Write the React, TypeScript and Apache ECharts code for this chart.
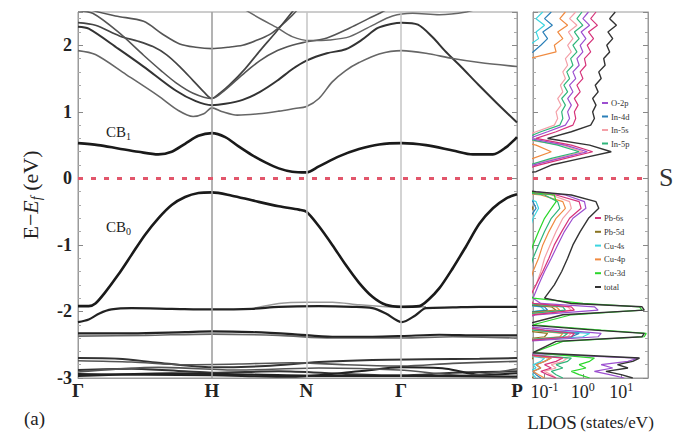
import React, { useEffect, useRef } from 'react';
import * as echarts from 'echarts';

// ---------- k-path ----------
const kPath = [0, 1.0, 1.707, 2.414, 3.28];
const kLabels = ['Γ', 'H', 'N', 'Γ', 'P'];
const kLines = [1.0, 1.707, 2.414];

// ---------- bands [k, E] ----------
const cb1 = [[0,0.53],[0.15,0.5],[0.3,0.45],[0.45,0.4],[0.6,0.36],[0.7,0.4],[0.8,0.52],[0.9,0.64],[1.0,0.68],[1.1,0.62],[1.2,0.48],[1.3,0.35],[1.4,0.24],[1.5,0.15],[1.6,0.1],[1.707,0.09],[1.8,0.18],[1.95,0.33],[2.1,0.44],[2.25,0.51],[2.42,0.53],[2.6,0.5],[2.8,0.42],[2.95,0.36],[3.1,0.36],[3.2,0.47],[3.28,0.62]];
const cb0 = [[0,-1.92],[0.08,-1.92],[0.13,-1.88],[0.2,-1.72],[0.3,-1.45],[0.4,-1.15],[0.5,-0.85],[0.6,-0.6],[0.7,-0.4],[0.8,-0.28],[0.9,-0.22],[1.0,-0.21],[1.15,-0.26],[1.3,-0.33],[1.5,-0.42],[1.65,-0.47],[1.707,-0.5],[1.8,-0.72],[1.9,-1.0],[2.0,-1.3],[2.1,-1.57],[2.2,-1.78],[2.3,-1.9],[2.42,-1.93],[2.55,-1.92],[2.62,-1.82],[2.7,-1.65],[2.8,-1.35],[2.9,-1.02],[3.0,-0.68],[3.1,-0.45],[3.2,-0.3],[3.28,-0.24]];
const band1 = [[0,2.62],[0.1,2.53],[0.28,2.44],[0.49,2.36],[0.63,2.17],[0.76,2.02],[0.88,1.97],[1.0,1.95],[1.12,1.97],[1.23,2.0],[1.33,2.07],[1.43,2.16],[1.52,2.3],[1.6,2.45],[1.66,2.58]];
const band2 = [[0,2.34],[0.13,2.3],[0.31,2.14],[0.45,2.06],[0.56,1.98],[0.66,1.86],[0.76,1.68],[0.86,1.47],[0.94,1.3],[1.0,1.2],[1.06,1.28],[1.13,1.4],[1.25,1.65],[1.36,1.92],[1.48,2.2],[1.6,2.5],[1.64,2.6]];
const band3 = [[0,2.52],[0.11,2.48],[0.3,2.2],[0.49,1.85],[0.62,1.62],[0.73,1.44],[0.86,1.28],[1.0,1.2],[1.1,1.33],[1.23,1.56],[1.36,1.77],[1.49,1.92],[1.6,2.0],[1.68,2.04],[1.86,2.11],[2.03,2.26],[2.17,2.4],[2.3,2.53],[2.35,2.6]];
const band4 = [[0,2.28],[0.08,2.25],[0.3,1.95],[0.49,1.68],[0.73,1.32],[0.88,1.16],[1.0,1.1],[1.1,1.12],[1.23,1.18],[1.36,1.3],[1.49,1.47],[1.6,1.64],[1.707,1.77],[1.86,1.88],[2.0,1.94],[2.12,2.08],[2.24,2.26],[2.34,2.32],[2.42,2.34],[2.54,2.31],[2.65,2.12],[2.74,1.92],[2.86,1.68],[2.99,1.41],[3.13,1.13],[3.28,0.84]];
const band5 = [[0,1.92],[0.13,1.86],[0.36,1.56],[0.6,1.24],[0.75,1.02],[0.86,0.93],[0.94,0.97],[1.0,1.06],[1.08,1.0],[1.19,0.95],[1.35,0.97],[1.5,1.01],[1.62,1.05],[1.707,1.08],[1.8,1.2],[1.9,1.45],[2.0,1.62],[2.1,1.74],[2.25,1.87],[2.42,1.92],[2.6,1.88],[2.8,1.8],[3.0,1.74],[3.28,1.68]];
const band6 = [[1.2,2.6],[1.26,2.52],[1.38,2.38],[1.49,2.26],[1.6,2.13],[1.73,2.07],[1.88,2.08],[2.03,2.13],[2.2,2.3],[2.35,2.44],[2.5,2.48],[2.7,2.46],[2.9,2.5],[3.0,2.56]];
const flat1 = [[0,-2.16],[0.08,-2.12],[0.16,-2.03],[0.25,-1.97],[0.4,-1.95],[0.7,-1.96],[1.0,-1.97],[1.3,-1.96],[1.5,-1.93],[1.8,-1.92],[2.05,-1.93],[2.2,-1.95],[2.3,-2.03],[2.42,-2.16],[2.52,-2.06],[2.6,-1.95],[2.8,-1.94],[3.0,-1.93],[3.28,-1.93]];
const flat1b = [[1.3,-1.96],[1.5,-1.88],[1.7,-1.86],[1.9,-1.86],[2.1,-1.9],[2.3,-1.93],[2.42,-1.94],[2.6,-1.93]];
const flat2 = [[0,-2.33],[0.4,-2.33],[0.8,-2.31],[1.0,-2.3],[1.3,-2.31],[1.6,-2.34],[1.9,-2.38],[2.2,-2.38],[2.42,-2.37],[2.7,-2.35],[3.0,-2.36],[3.28,-2.36]];
const flat2b = [[0,-2.37],[0.5,-2.36],[1.0,-2.34],[1.5,-2.36],[1.9,-2.4],[2.42,-2.4],[2.8,-2.38],[3.28,-2.4]];
const flat3 = [[0,-2.7],[0.3,-2.71],[0.6,-2.77],[1.0,-2.84],[1.4,-2.82],[1.8,-2.76],[2.2,-2.73],[2.6,-2.72],[3.0,-2.71],[3.28,-2.7]];
const flat4 = [[0,-2.74],[0.4,-2.76],[0.8,-2.8],[1.2,-2.79],[1.6,-2.77],[2.0,-2.8],[2.42,-2.82],[2.8,-2.78],[3.28,-2.75]];
const flat5 = [[0,-2.88],[0.4,-2.86],[0.8,-2.9],[1.0,-2.92],[1.5,-2.9],[2.0,-2.94],[2.42,-2.96],[2.8,-2.92],[3.28,-2.9]];
const flat6 = [[0,-2.94],[0.5,-2.95],[1.0,-2.96],[1.6,-2.98],[2.1,-2.9],[2.42,-2.84],[2.75,-2.86],[3.0,-2.95],[3.28,-2.93]];
const flat7 = [[0,-2.91],[0.6,-2.84],[1.2,-2.88],[1.8,-2.85],[2.4,-2.88],[2.9,-2.96],[3.28,-2.86]];
const flat8 = [[0,-2.97],[0.7,-2.93],[1.3,-2.95],[1.9,-2.97],[2.5,-2.97],[3.28,-2.98]];

// ---------- LDOS (states/eV) on a shared energy grid ----------
const ldosEnergy = [2.5,2.4,2.3,2.2,2.1,2.0,1.9,1.8,1.7,1.6,1.5,1.4,1.3,1.2,1.1,1.0,0.9,0.8,0.7,0.6,0.5,0.4,0.3,0.2,0.1,0.05,-0.15,-0.2,-0.25,-0.35,-0.45,-0.6,-0.8,-1.0,-1.2,-1.4,-1.6,-1.8,-1.88,-1.93,-1.98,-2.05,-2.2,-2.28,-2.33,-2.38,-2.45,-2.62,-2.7,-2.75,-2.8,-2.85,-2.9,-2.95,-3.0];
const dosO2p = [1.4,1.0,1.5,0.9,1.2,0.85,1.0,0.7,0.8,0.55,0.65,0.45,0.55,0.4,0.5,0.4,0.45,0.35,0.12,0.04,0.35,1.3,0.25,0.05,0.015,0.01, 0.01,0.05,0.35,1.1,1.2,0.55,0.33,0.22,0.15,0.1,0.07,0.05, 0.08,2,2.5,0.06,0.01, 0.3,3,2.5,0.03,0.01, 28,15,3,6,2,5,12];
const dosIn4d = [0.15,0.1,0.16,0.09,0.12,0.08,0.05,0.02,0.01,0.01, 0.01,0.01,0.01,0.01,0.01,0.01,0.01,0.01,0.01,0.01, 0.01,0.01,0.01,0.01,0.01,0.01, 0.01,0.01,0.02,0.05,0.06,0.04,0.03,0.02,0.015,0.01,0.01,0.01, 0.01,0.1,0.12,0.01,0.01, 0.05,0.8,0.5,0.01,0.01, 0.15,0.1,0.06,0.08,0.05,0.06,0.08];
const dosIn5s = [0.65,0.45,0.7,0.42,0.55,0.4,0.5,0.35,0.4,0.3, 0.35,0.26,0.3,0.22,0.27,0.2,0.22,0.18,0.06,0.02, 0.3,1.0,0.2,0.04,0.01,0.01, 0.01,0.02,0.15,0.45,0.5,0.3,0.2,0.14,0.1,0.08,0.06,0.04, 0.05,0.4,0.5,0.03,0.01, 0.05,0.5,0.4,0.01,0.01, 0.4,0.3,0.15,0.2,0.1,0.15,0.2];
const dosIn5p = [0.95,0.7,1.0,0.6,0.8,0.55,0.7,0.48,0.55,0.38, 0.45,0.32,0.4,0.28,0.35,0.28,0.3,0.25,0.08,0.03, 0.22,0.8,0.15,0.04,0.01,0.01, 0.01,0.02,0.1,0.22,0.25,0.15,0.1,0.07,0.05,0.04,0.03,0.02, 0.03,0.3,0.35,0.02,0.01, 0.05,0.4,0.3,0.01,0.01, 0.5,0.4,0.2,0.3,0.15,0.2,0.3];
const dosPb6s = [2.2,1.6,2.4,1.4,1.9,1.3,1.6,1.1,1.2,0.85, 1.0,0.7,0.85,0.6,0.75,0.6,0.65,0.55,0.2,0.06, 0.5,1.8,0.35,0.07,0.02,0.01, 0.01,0.03,0.2,0.8,0.9,0.45,0.28,0.18,0.13,0.09,0.06,0.04, 0.05,0.5,0.6,0.05,0.01, 0.1,0.6,0.5,0.02,0.01, 0.3,0.2,0.1,0.15,0.08,0.12,0.2];
const dosPb5d = [0.01,0.01,0.01,0.01,0.01,0.01,0.01,0.01,0.01,0.01, 0.01,0.01,0.01,0.01,0.01,0.01,0.01,0.01,0.01,0.01, 0.01,0.01,0.01,0.01,0.01,0.01, 0.01,0.01,0.02,0.04,0.05,0.03,0.02,0.02,0.015,0.01,0.01,0.01, 0.02,0.15,0.2,0.01,0.01, 0.02,0.12,0.1,0.01,0.01, 0.05,0.04,0.03,0.04,0.03,0.04,0.05];
const dosCu4s = [0.09,0.06,0.1,0.06,0.07,0.04,0.015,0.01,0.01,0.01, 0.01,0.01,0.01,0.01,0.01,0.01,0.01,0.01,0.01,0.01, 0.01,0.01,0.01,0.01,0.01,0.01, 0.01,0.01,0.02,0.06,0.07,0.05,0.04,0.03,0.02,0.015,0.01,0.01, 0.01,0.08,0.1,0.01,0.01, 0.1,1.5,1.0,0.02,0.01, 0.1,0.08,0.05,0.06,0.04,0.05,0.06];
const dosCu4p = [0.35,0.25,0.4,0.22,0.3,0.18,0.2,0.04,0.015,0.01, 0.01,0.01,0.01,0.01,0.01,0.01,0.01,0.01,0.01,0.01, 0.06,0.15,0.05,0.01,0.01,0.01, 0.01,0.01,0.08,0.3,0.35,0.2,0.13,0.09,0.07,0.05,0.04,0.03, 0.04,0.2,0.25,0.02,0.01, 0.04,0.3,0.25,0.01,0.01, 0.15,0.1,0.06,0.08,0.05,0.07,0.1];
const dosCu3d = [0.01,0.01,0.01,0.01,0.01,0.01,0.01,0.01,0.01,0.01, 0.01,0.01,0.01,0.01,0.01,0.01,0.01,0.01,0.01,0.01, 0.01,0.01,0.01,0.01,0.01,0.01, 0.01,0.03,0.18,0.2,0.15,0.1,0.07,0.05,0.04,0.03,0.025,0.05, 1,30,35,0.5,0.05, 3,45,40,0.3,0.05, 2,1.5,0.8,1.2,0.5,0.8,1.5];
const dosTotal = [7,5,7.5,4.5,6,4.2,5,3.5,3.8,2.6, 3,2.1,2.5,1.8,2.2,1.8,2,1.6,0.5,0.12, 1.5,5.5,0.9,0.15,0.06,0.01, 0.01,0.06,0.5,2.2,2.6,1.4,0.85,0.55,0.4,0.28,0.18,0.1, 0.5,35,40,0.3,0.03, 2,40,35,0.2,0.05, 30,20,8,15,4,10,20];

const ldosTicks = [0.1, 1, 10];
const legendTop = ['O-2p', 'In-4d', 'In-5s', 'In-5p'];
const legendBottom = ['Pb-6s', 'Pb-5d', 'Cu-4s', 'Cu-4p', 'Cu-3d', 'total'];

const SERIF = "'Liberation Serif', 'DejaVu Serif', serif";
const FRAME = '#9a9a9a';

export default function App() {
  const ref = useRef<HTMLDivElement>(null);
  useEffect(() => {
    if (!ref.current) return;
    const chart = echarts.init(ref.current, undefined, { renderer: 'svg' });

    const band = (data: number[][], color: string, width: number, smooth = 0.3) => ({
      type: 'line', xAxisIndex: 0, yAxisIndex: 0, data, showSymbol: false, smooth,
      silent: true, lineStyle: { color, width }, z: 3,
    });
    const dos = (name: string, vals: number[], color: string, width = 1.2) => ({
      type: 'line', name, xAxisIndex: 1, yAxisIndex: 2, showSymbol: false, silent: true,
      data: ldosEnergy.map((e, i) => [vals[i], e]),
      lineStyle: { color, width }, itemStyle: { color }, z: 3,
    });

    const zeroLine = {
      silent: true, symbol: ['none', 'none'], label: { show: false },
      lineStyle: { color: '#e2566b', type: [5, 8], width: 3 },
      data: [{ yAxis: 0 }],
    };

    const yCommon = {
      type: 'value', min: -3, max: 2.5, interval: 1,
      axisLine: { show: true, onZero: false, lineStyle: { color: FRAME } },
      axisTick: { show: true, inside: true, length: 5, lineStyle: { color: '#888' } },
      minorTick: { show: true, splitNumber: 5, length: 3, lineStyle: { color: '#aaa' } },
      splitLine: { show: false },
    };

    const option: any = {
      animation: false,
      backgroundColor: '#ffffff',
      grid: [
        { left: 78, top: 12, width: 439, height: 366, show: true, borderColor: FRAME, borderWidth: 1 },
        { left: 533, top: 12, width: 115, height: 366, show: true, borderColor: FRAME, borderWidth: 1 },
      ],
      xAxis: [
        {
          gridIndex: 0, type: 'value', min: 0, max: 3.28,
          axisLine: { show: true, onZero: false, lineStyle: { color: FRAME } },
          axisTick: { show: false }, splitLine: { show: false },
          axisLabel: {
            customValues: kPath,
            formatter: (v: number) => kLabels[kPath.findIndex((k) => Math.abs(k - v) < 1e-6)] ?? '',
            fontFamily: SERIF, fontSize: 19, fontWeight: 'bold', color: '#222', margin: 3,
          },
        },
        {
          gridIndex: 1, type: 'log', logBase: 10, min: 0.05, max: 50,
          axisLine: { show: true, onZero: false, lineStyle: { color: FRAME } },
          axisTick: { show: true, inside: true, length: 4, customValues: ldosTicks, lineStyle: { color: '#888' } },
          minorTick: { show: false }, splitLine: { show: false },
          axisLabel: {
            customValues: ldosTicks, margin: 3,
            formatter: (v: number) => `{b|10}{s|${Math.round(Math.log10(v))}}`,
            rich: {
              b: { fontFamily: SERIF, fontSize: 18, color: '#222', lineHeight: 22, verticalAlign: 'middle' },
              s: { fontFamily: SERIF, fontSize: 12, color: '#222', lineHeight: 12, verticalAlign: 'top' },
            },
          },
          name: '{a|LDOS} {b|(states/eV)}',
          nameLocation: 'middle', nameGap: 32,
          nameTextStyle: {
            rich: {
              a: { fontFamily: SERIF, fontSize: 19, color: '#222', lineHeight: 24, verticalAlign: 'middle' },
              b: { fontFamily: SERIF, fontSize: 17, color: '#222', lineHeight: 24, verticalAlign: 'middle' },
            },
          },
        },
      ],
      yAxis: [
        {
          ...yCommon, gridIndex: 0, position: 'left',
          axisLabel: {
            fontFamily: SERIF, fontSize: 18, fontWeight: 'bold', color: '#222', margin: 6,
            formatter: (v: number) => (Number.isInteger(v) ? String(v) : ''),
          },
          name: '{n|E−}{it|E}{sub|f}{n| (eV)}',
          nameLocation: 'middle', nameRotate: 90, nameGap: 35,
          nameTextStyle: {
            rich: {
              n: { fontFamily: SERIF, fontSize: 22, color: '#222', lineHeight: 26, verticalAlign: 'middle' },
              it: { fontFamily: SERIF, fontSize: 22, fontStyle: 'italic', color: '#222', lineHeight: 26, verticalAlign: 'middle' },
              sub: { fontFamily: SERIF, fontSize: 14, fontStyle: 'italic', color: '#222', lineHeight: 14, verticalAlign: 'bottom' },
            },
          },
        },
        { ...yCommon, gridIndex: 0, position: 'right', axisLabel: { show: false } },
        { ...yCommon, gridIndex: 1, position: 'left', axisLabel: { show: false } },
        { ...yCommon, gridIndex: 1, position: 'right', axisLabel: { show: false } },
      ],
      legend: [
        {
          data: legendTop, orient: 'vertical', left: 602, top: 98, itemWidth: 6, itemHeight: 2,
          itemGap: 3.5, icon: 'rect', selectedMode: false, padding: 0,
          textStyle: { fontFamily: SERIF, fontSize: 8.5, lineHeight: 10, color: '#333', padding: [0, 0, 0, -2] },
        },
        {
          data: legendBottom, orient: 'vertical', left: 595, top: 213, itemWidth: 6, itemHeight: 2,
          itemGap: 3.8, icon: 'rect', selectedMode: false, padding: 0,
          textStyle: { fontFamily: SERIF, fontSize: 8.5, lineHeight: 10, color: '#333', padding: [0, 0, 0, -2] },
        },
      ],
      graphic: [
        { type: 'text', left: 106, top: 124, silent: true, style: {
          text: '{a|CB}{s|1}', rich: {
            a: { fontFamily: SERIF, fontSize: 15, fill: '#222', lineHeight: 20, verticalAlign: 'middle' },
            s: { fontFamily: SERIF, fontSize: 10, fill: '#222', lineHeight: 10, verticalAlign: 'bottom' },
          } } },
        { type: 'text', left: 106, top: 219, silent: true, style: {
          text: '{a|CB}{s|0}', rich: {
            a: { fontFamily: SERIF, fontSize: 15, fill: '#222', lineHeight: 20, verticalAlign: 'middle' },
            s: { fontFamily: SERIF, fontSize: 10, fill: '#222', lineHeight: 10, verticalAlign: 'bottom' },
          } } },
        { type: 'text', left: 24, top: 409, silent: true, style: { text: '(a)', fontFamily: SERIF, fontSize: 19, fill: '#222' } },
        { type: 'text', left: 659, top: 164, silent: true, style: { text: 'S', fontFamily: SERIF, fontSize: 26, fill: '#333' } },
      ],
      series: [
        // vertical high-symmetry lines (main panel)
        {
          type: 'line', xAxisIndex: 0, yAxisIndex: 0, data: [], silent: true,
          markLine: {
            silent: true, symbol: ['none', 'none'], label: { show: false },
            lineStyle: { color: '#c4c4c4', type: 'solid', width: 1.5 },
            data: kLines.map((k, i) => (i === 0 ? { xAxis: k, lineStyle: { color: '#a0a0a0', type: 'solid', width: 1.6 } } : { xAxis: k })),
          },
          z: 1,
        },
        band(band1, '#555', 1.6),
        band(band2, '#444', 1.7),
        band(band3, '#555', 1.6),
        band(band4, '#333', 2),
        band(band5, '#666', 1.6),
        band(band6, '#666', 1.5),
        band(flat1b, '#999', 1.5),
        band(flat1, '#222', 2.2),
        band(flat2b, '#666', 1.6),
        band(flat2, '#222', 2.2),
        band(flat3, '#333', 2),
        band(flat4, '#555', 1.6),
        band(flat5, '#333', 2),
        band(flat6, '#222', 2),
        band(flat7, '#555', 1.6),
        band(flat8, '#222', 2.2),
        band(cb0, '#1a1a1a', 2.6),
        { ...band(cb1, '#1a1a1a', 2.6), markLine: zeroLine, z: 4 },
        // LDOS panel
        dos('Cu-4s', dosCu4s, '#3dd5e0'),
        dos('In-4d', dosIn4d, '#2a7fb8'),
        dos('Pb-5d', dosPb5d, '#8a7420'),
        dos('Cu-4p', dosCu4p, '#f08a40'),
        dos('In-5s', dosIn5s, '#f4a0a8'),
        dos('In-5p', dosIn5p, '#2fb57a'),
        dos('O-2p', dosO2p, '#9c4fd0'),
        dos('Pb-6s', dosPb6s, '#d6337a'),
        dos('Cu-3d', dosCu3d, '#2bd62b'),
        { ...dos('total', dosTotal, '#333333', 1.4), markLine: zeroLine },
      ],
    };
    chart.setOption(option);
    return () => chart.dispose();
  }, []);

  return (
    <div
      ref={ref}
      style={{ position: 'fixed', left: 0, top: 0, width: 674, height: 441, background: '#fff' }}
    />
  );
}
